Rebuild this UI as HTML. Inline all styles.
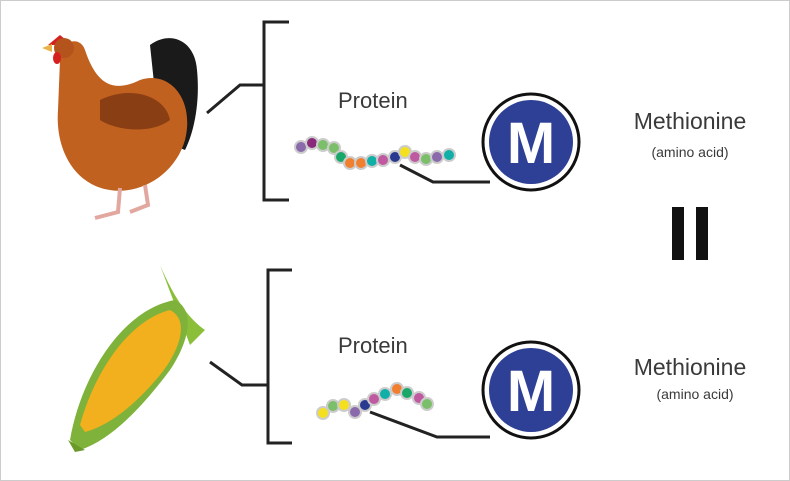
<!DOCTYPE html>
<html><head><style>
body{margin:0;background:#fff}
svg{display:block}
text{font-family:"Liberation Sans",sans-serif;fill:#3a3a3a}
</style></head><body>
<svg width="790" height="481" viewBox="0 0 790 481" xmlns="http://www.w3.org/2000/svg">
<rect x="0.5" y="0.5" width="789" height="480" fill="#fff" stroke="#ccc"/>
<!-- chicken -->
<g>
<path d="M150 45 C170 30 195 40 197 70 C200 100 195 130 185 150 L160 140 Z" fill="#1a1a1a"/>
<path d="M60 60 C60 40 80 35 85 50 C95 80 110 95 140 80 C170 70 195 100 185 140 C175 175 140 195 110 190 C75 185 55 150 58 110 Z" fill="#c0611f"/>
<path d="M100 100 C130 85 165 95 170 120 C150 135 115 130 100 120 Z" fill="#8a3e14"/>
<path d="M48 45 L60 35 L72 45 Z" fill="#d62020"/>
<circle cx="64" cy="48" r="10" fill="#b5531c"/>
<path d="M42 48 L52 44 L52 52 Z" fill="#e8b44a"/>
<ellipse cx="57" cy="58" rx="4" ry="6" fill="#d62020"/>
<path d="M120 188 L118 212 L95 218 M145 185 L148 205 L130 212" stroke="#e2a8a0" stroke-width="4" fill="none"/>
</g>
<!-- corn -->
<g>
<path d="M160 265 C175 300 190 320 205 330 L190 345 Z" fill="#8bbf3a"/>
<path d="M70 440 C80 380 120 310 175 300 C195 310 190 340 170 370 C140 410 110 440 80 450 Z" fill="#7fb23a"/>
<path d="M80 425 C95 370 130 320 170 310 C190 320 180 350 160 375 C135 405 110 425 85 432 Z" fill="#f2b01e"/>
<path d="M68 440 L85 450 L75 452 Z" fill="#6a9a2a"/>
</g>
<!-- brackets -->
<g stroke="#222" stroke-width="3" fill="none">
<path d="M289 22 H264 V200 H289 M264 85 H240 L207 113"/>
<path d="M292 270 H268 V443 H292 M268 385 H242 L210 362"/>
<path d="M400 165 L433 182 H490"/>
<path d="M370 412 L437 437 H490"/>
</g>
<text x="338" y="108" font-size="22">Protein</text>
<text x="338" y="353" font-size="22">Protein</text>
<g stroke="#ccc" stroke-width="2">
<circle cx="301" cy="147" r="6" fill="#8a6aaa"/><circle cx="312" cy="143" r="6" fill="#8a2a7a"/><circle cx="323" cy="145" r="6" fill="#7cbf6a"/><circle cx="334" cy="148" r="6" fill="#7cbf6a"/><circle cx="341" cy="157" r="6" fill="#1aa86a"/><circle cx="350" cy="163" r="6" fill="#f08030"/><circle cx="361" cy="163" r="6" fill="#f08030"/><circle cx="372" cy="161" r="6" fill="#10b0a8"/><circle cx="383" cy="160" r="6" fill="#c05aa0"/><circle cx="395" cy="157" r="6" fill="#2a3a90"/><circle cx="405" cy="152" r="6" fill="#f5e020"/><circle cx="415" cy="157" r="6" fill="#c05aa0"/><circle cx="426" cy="159" r="6" fill="#7cbf6a"/><circle cx="437" cy="157" r="6" fill="#8a6aaa"/><circle cx="449" cy="155" r="6" fill="#10b0a8"/>
<circle cx="323" cy="413" r="6" fill="#f5e020"/><circle cx="333" cy="406" r="6" fill="#7cbf6a"/><circle cx="344" cy="405" r="6" fill="#f5e020"/><circle cx="355" cy="412" r="6" fill="#8a6aaa"/><circle cx="365" cy="405" r="6" fill="#2a3a90"/><circle cx="374" cy="399" r="6" fill="#c05aa0"/><circle cx="385" cy="394" r="6" fill="#10b0a8"/><circle cx="397" cy="389" r="6" fill="#f08030"/><circle cx="407" cy="393" r="6" fill="#1aa86a"/><circle cx="419" cy="398" r="6" fill="#c05aa0"/><circle cx="427" cy="404" r="6" fill="#7cbf6a"/>
</g>
<g>
<circle cx="531" cy="142" r="48" fill="#fff" stroke="#111" stroke-width="3"/>
<circle cx="531" cy="142" r="42" fill="#2e3f96"/>
<text x="531" y="163" font-size="58" font-weight="bold" text-anchor="middle" style="fill:#fff">M</text>
<circle cx="531" cy="390" r="48" fill="#fff" stroke="#111" stroke-width="3"/>
<circle cx="531" cy="390" r="42" fill="#2e3f96"/>
<text x="531" y="411" font-size="58" font-weight="bold" text-anchor="middle" style="fill:#fff">M</text>
</g>
<text x="690" y="129" font-size="23" text-anchor="middle">Methionine</text>
<text x="690" y="157" font-size="14" text-anchor="middle">(amino acid)</text>
<text x="690" y="375" font-size="23" text-anchor="middle">Methionine</text>
<text x="695" y="399" font-size="14" text-anchor="middle">(amino acid)</text>
<rect x="672" y="207" width="12" height="53" fill="#111"/>
<rect x="696" y="207" width="12" height="53" fill="#111"/>
</svg>
</body></html>
